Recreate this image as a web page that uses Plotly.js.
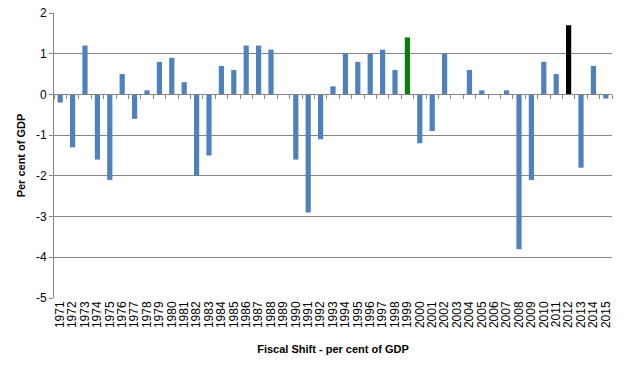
<!DOCTYPE html>
<html><head><meta charset="utf-8">
<script src="https://cdn.plot.ly/plotly-3.0.1.min.js"></script>
<style>body{margin:0;background:#fff}#c{width:624px;height:366px}</style>
</head><body><div id="c"></div>
<script>
const years = ["1971","1972","1973","1974","1975","1976","1977","1978","1979","1980","1981","1982","1983","1984","1985","1986","1987","1988","1989","1990","1991","1992","1993","1994","1995","1996","1997","1998","1999","2000","2001","2002","2003","2004","2005","2006","2007","2008","2009","2010","2011","2012","2013","2014","2015"];
const shift = [-0.2,-1.3,1.2,-1.6,-2.1,0.5,-0.6,0.1,0.8,0.9,0.3,-2.0,-1.5,0.7,0.6,1.2,1.2,1.1,0,-1.6,-2.9,-1.1,0.2,1.0,0.8,1.0,1.1,0.6,1.4,-1.2,-0.9,1.0,0,0.6,0.1,0,0.1,-3.8,-2.1,0.8,0.5,1.7,-1.8,0.7,-0.1];
const yTicks = [-5,-4,-3,-2,-1,0,1,2];
const yTickText = ["-5","-4","-3","-2","-1","0","1","2"];
const highlight = {"1999":"#0a7d0a","2012":"#000000"};
const colors = years.map(y => highlight[y] || "#4F81BD");
const yMin = -5, yMax = 2;

const traces = [
  {type:"bar", x:years, y:shift, marker:{color:colors}, hoverinfo:"x+y"},
  {type:"bar", x:years, y:years.map(()=>null), xaxis:"x2", showlegend:false, hoverinfo:"skip"}
];
const font = "Liberation Sans, Arial, sans-serif";
const layout = {
  width:624, height:366,
  margin:{l:54, r:12, t:13, b:68},
  paper_bgcolor:"#fff", plot_bgcolor:"#fff",
  showlegend:false, bargap:0.58,
  font:{family:font, size:11, color:"#000"},
  xaxis:{type:"category", tickmode:"array", tickvals:years, ticktext:years, tickangle:-90,
         showgrid:false, zeroline:false, ticks:"", showline:false,
         tickfont:{size:12, family:font}, automargin:false,
         title:{text:"Fiscal Shift - per cent of GDP", font:{size:11, family:font, weight:"bold"}, standoff:18}},
  xaxis2:{type:"category", overlaying:"x", matches:"x", anchor:"free",
          position:(0 - yMin)/(yMax - yMin), showticklabels:false, ticks:"outside",
          tickmode:"array", tickvals:years,
          tickson:"boundaries", ticklen:4, tickcolor:"#868686", showline:true,
          linecolor:"#868686", linewidth:1, showgrid:false, zeroline:false},
  yaxis:{range:[yMin, yMax], tickmode:"array", tickvals:yTicks, ticktext:yTickText,
         showgrid:true, gridcolor:"#868686", gridwidth:1,
         zeroline:false, showline:true, linecolor:"#868686", ticks:"outside", ticklen:4,
         tickcolor:"#868686", tickfont:{size:12, family:font},
         title:{text:"Per cent of GDP", font:{size:11, family:font, weight:"bold"}, standoff:8}}
};
Plotly.newPlot("c", traces, layout, {displayModeBar:false, staticPlot:true});
</script></body></html>
